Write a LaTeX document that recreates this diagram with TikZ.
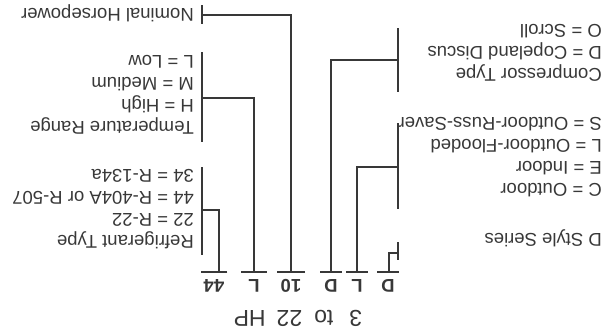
\documentclass[tikz,border=0pt]{standalone}
\usepackage{fontspec}
\setmainfont{Liberation Sans}
\definecolor{ink}{HTML}{383838}
\tikzset{
  code/.style={font=\bfseries\fontsize{18.5}{18.5}\selectfont, text=ink, anchor=south,
    inner xsep=3pt, inner ysep=0pt, minimum width=21pt, text height=13pt, text depth=7.5pt},
  desc/.style={font=\fontsize{18.5}{22}\selectfont, text=ink, align=left, inner sep=0pt, anchor=north west},
  title/.style={font=\fontsize{23}{23}\selectfont, text=ink, inner sep=0pt},
  conn/.style={draw=ink, line width=2.4pt},
  tick/.style={draw=ink, line width=2.4pt},
  bar/.style={draw=ink, line width=2.6pt}
}

\begin{document}
\begin{tikzpicture}[x=1pt, y=-1pt, rotate=180, transform shape]
    \useasboundingbox (0,0) rectangle (611,334);

    % Heading
    \node[title] (ttl) at (313,16) {3\hspace{16pt}to\hspace{12pt}22\hspace{11pt}HP};

    % Model code
    \node[code] (cStyle) at (223,62) {D};
    \node[code] (cLoc) at (254,62) {L};
    \node[code] (cComp) at (280,62) {D};
    \node[code, minimum width=28pt] (cHP) at (320,62) {10};
    \node[code, minimum width=25pt] (cTemp) at (357,62) {L};
    \node[code, minimum width=23pt] (cRef) at (397,62) {44};
    \foreach \c in {cStyle,cLoc,cComp,cHP,cTemp,cRef}
        \draw[bar] (\c.south west) -- (\c.south east);

    % Left column
    \node[desc] (dStyle) at (9,87) {D Style Series};
    \node[desc] (dLoc) at (9,137) {C = Outdoor\\E = Indoor\\L = Outdoor-Flooded\\S = Outdoor-Russ-Saver};
    \node[desc] (dComp) at (9,252) {Compressor Type\\D = Copeland Discus\\O = Scroll};

    % Right column
    \node[desc] (dRef) at (417,85) {Refrigerant Type\\22 = R-22\\44 = R-404A or R-507\\34 = R-134a};
    \node[desc] (dTemp) at (417,200) {Temperature Range\\H = High\\M = Medium\\L = Low};
    \node[desc] (dHP) at (417,312) {Nominal Horsepower};

    % Brackets
    \coordinate (tStyle) at (213,81);
    \coordinate (tLoc) at (213,167);
    \coordinate (tComp) at (213,274);
    \coordinate (tRef) at (409,124);
    \coordinate (tTemp) at (409,236);
    \coordinate (tHP) at (409,319);
    \draw[tick] (213,74) -- (213,92);
    \draw[tick] (213,125) -- (213,211);
    \draw[tick] (213,242) -- (213,306);
    \draw[tick] (409,79) -- (409,167);
    \draw[tick] (409,192) -- (409,282);
    \draw[tick] (409,310) -- (409,329);

    % Connectors
    \draw[conn] ([xshift=-1pt]cStyle.south) |- (tStyle);
    \draw[conn] (cLoc.south) |- (tLoc);
    \draw[conn] (cComp.south) |- (tComp);
    \draw[conn] (cHP.south) |- (tHP);
    \draw[conn] (cTemp.south) |- (tTemp);
    \draw[conn] ([xshift=-5pt]cRef.south) |- (tRef);
\end{tikzpicture}
\end{document}
